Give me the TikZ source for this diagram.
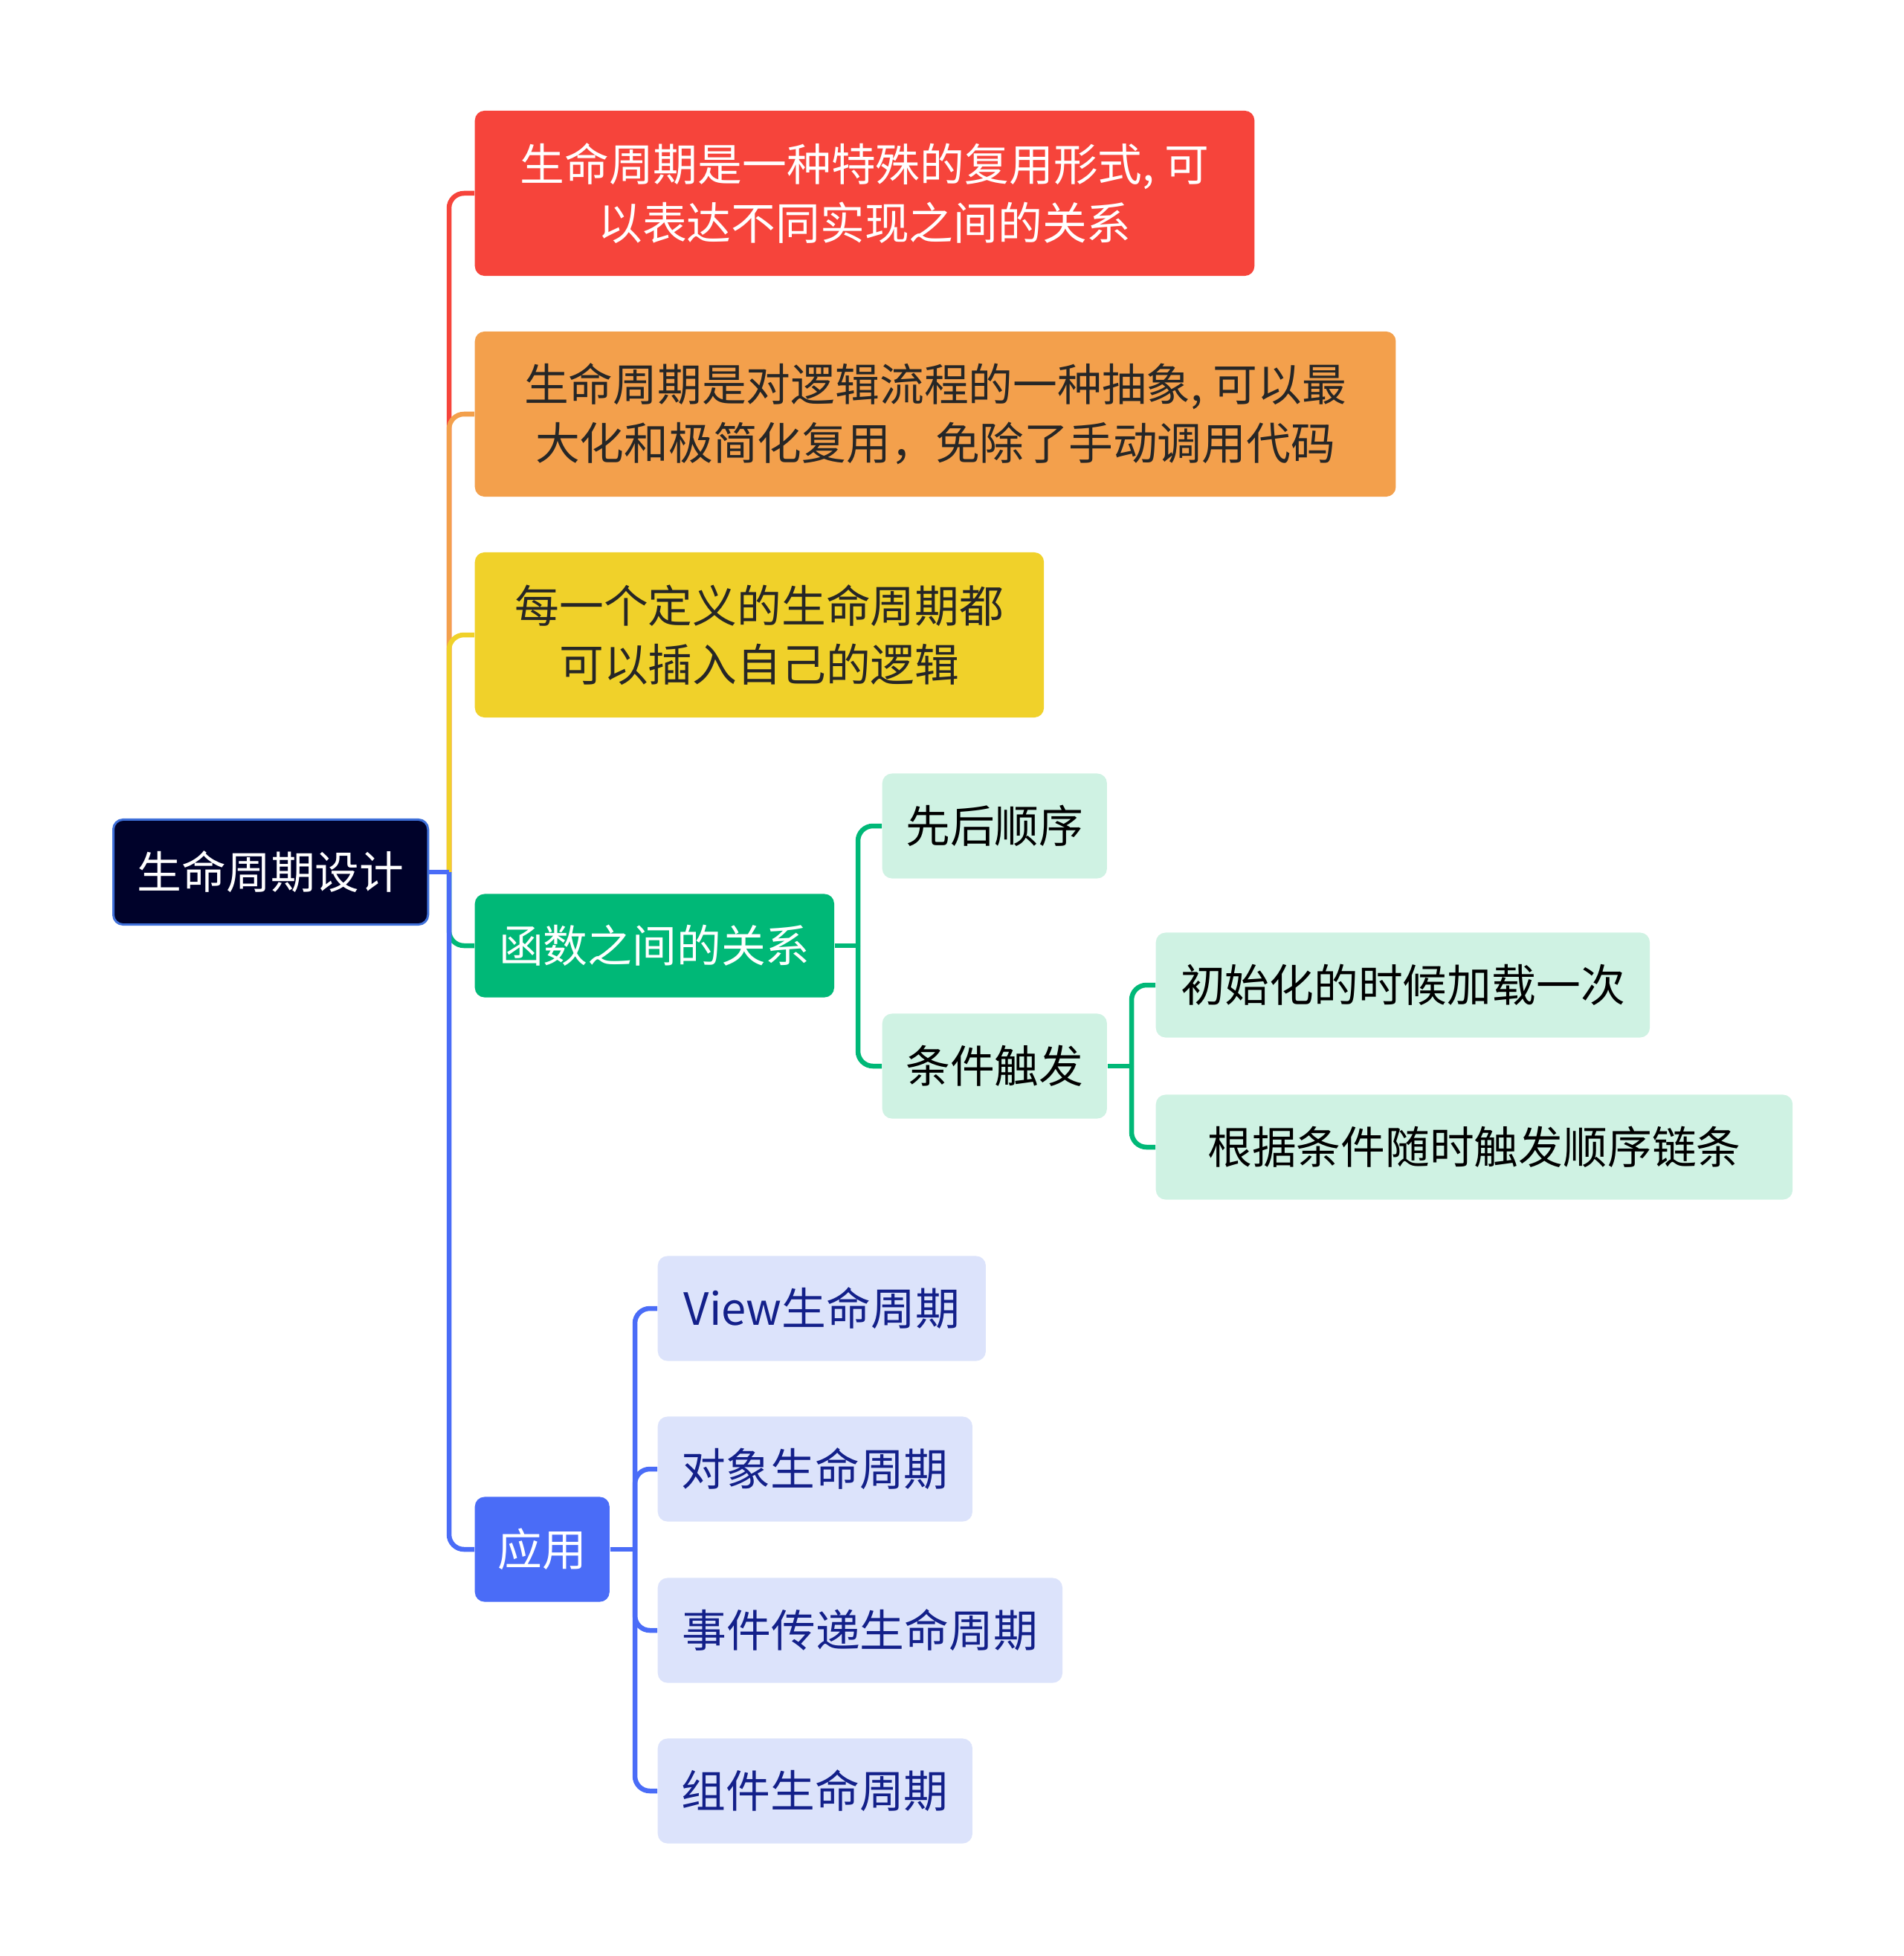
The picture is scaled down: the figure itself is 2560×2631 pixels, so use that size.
\documentclass[tikz,border=0pt]{standalone}
\usepackage{fontspec}
\setmainfont{Noto Sans CJK SC}
\usepackage{xcolor}
\usetikzlibrary{positioning}

\definecolor{rootfill}{HTML}{00022A}
\definecolor{rootline}{HTML}{3E6FD8}
\definecolor{redfill}{HTML}{F6443B}
\definecolor{orangefill}{HTML}{F3A04C}
\definecolor{yellowfill}{HTML}{F0D12A}
\definecolor{greenfill}{HTML}{00B877}
\definecolor{bluefill}{HTML}{4A6CF7}
\definecolor{mintfill}{HTML}{CFF2E3}
\definecolor{lilacfill}{HTML}{DCE3FB}
\definecolor{navytext}{HTML}{13208A}
\definecolor{darktext}{HTML}{262626}

\begin{document}
\begin{tikzpicture}[x=0.01cm,y=-0.01cm,
  box/.style={rectangle,rounded corners=0.13cm,inner sep=0pt,anchor=west,align=center,
    minimum height=1.41cm,font=\fontsize{17pt}{22.5pt}\selectfont},
  bigbox/.style={box,minimum height=2.22cm},
  link/.style={line width=0.065cm,rounded corners=0.2cm}]
\useasboundingbox (0,0) rectangle (2560,2631);

% root
\node[box,fill=rootfill,draw=rootline,line width=0.03cm,text=white,minimum width=4.23cm] (root) at (151,1173) {生命周期设计};

% first level
\node[bigbox,fill=redfill,text=white,minimum width=10.48cm] (reuse) at (638,260) {生命周期是一种特殊的复用形式, 可\\以表达不同实现之间的关系};
\node[bigbox,fill=orangefill,text=darktext,minimum width=12.38cm] (flow) at (638,557) {生命周期是对逻辑流程的一种抽象, 可以最\\大化和极简化复用，免除了手动调用代码};
\node[bigbox,fill=yellowfill,text=darktext,minimum width=7.65cm] (hook) at (638,854) {每一个定义的生命周期都\\可以插入自己的逻辑};
\node[box,fill=greenfill,text=white,minimum width=4.83cm,minimum height=1.39cm] (func) at (638,1272) {函数之间的关系};
\node[box,fill=bluefill,text=white,minimum width=1.81cm] (app) at (638,2084) {应用};

% second level
\node[box,fill=mintfill,text=black,minimum width=3.02cm] (order) at (1186,1111) {先后顺序};
\node[box,fill=mintfill,text=black,minimum width=3.02cm] (cond) at (1186,1434) {条件触发};
\node[box,fill=mintfill,text=black,minimum width=6.64cm] (init) at (1554,1325) {初始化的时候加载一次};
\node[box,fill=mintfill,text=black,minimum width=8.56cm] (chain) at (1554,1543) {根据条件随时触发顺序链条};

\node[box,fill=lilacfill,text=navytext,minimum width=4.41cm] (view) at (884,1760) {View生命周期};
\node[box,fill=lilacfill,text=navytext,minimum width=4.23cm] (obj) at (884,1976) {对象生命周期};
\node[box,fill=lilacfill,text=navytext,minimum width=5.44cm] (event) at (884,2193) {事件传递生命周期};
\node[box,fill=lilacfill,text=navytext,minimum width=4.23cm] (comp) at (884,2409) {组件生命周期};

% junction points
\coordinate (hub) at (604,1173);
\coordinate (funchub) at (1154,1272);
\coordinate (condhub) at (1522,1434);
\coordinate (apphub) at (854,2084);

% connectors
\draw[link,redfill] (hub) |- (reuse.west);
\draw[link,orangefill] (hub) |- (flow.west);
\draw[link,yellowfill] (hub) |- (hook.west);
\draw[link,greenfill] (hub) |- (func.west);
\draw[link,bluefill] (hub) |- (app.west);
\draw[link,bluefill] (root.east) -- (hub);

\draw[link,greenfill] (func.east) -- (funchub);
\draw[link,greenfill] (funchub) |- (order.west);
\draw[link,greenfill] (funchub) |- (cond.west);
\draw[link,greenfill] (cond.east) -- (condhub);
\draw[link,greenfill] (condhub) |- (init.west);
\draw[link,greenfill] (condhub) |- (chain.west);

\draw[link,bluefill] (app.east) -- (apphub);
\draw[link,bluefill] (apphub) |- (view.west);
\draw[link,bluefill] (apphub) |- (obj.west);
\draw[link,bluefill] (apphub) |- (event.west);
\draw[link,bluefill] (apphub) |- (comp.west);
\end{tikzpicture}
\end{document}
